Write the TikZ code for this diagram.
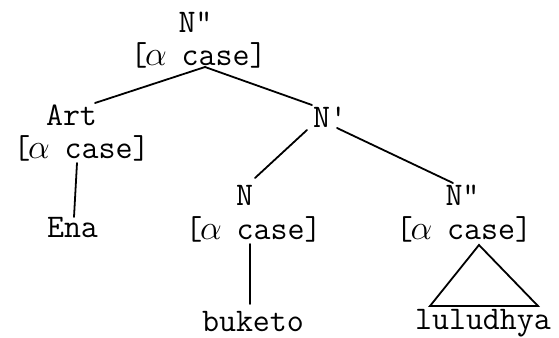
\documentclass[tikz,border=0pt]{standalone}
\usepackage{tikz}

\newcommand{\alf}{\makebox[0.525em]{$\alpha$}}

\begin{document}
\begin{tikzpicture}[
    x=0.5pt, y=-0.5pt,
    lbl/.style={font=\ttfamily\fontsize{16.5}{19}\selectfont, inner sep=0pt, anchor=base},
    edge/.style={draw, line width=0.9pt, color=black, line cap=round}
]
    \useasboundingbox (0,0) rectangle (559,338);

    % Root
    \node [lbl] (root) at (195.5,32) {N"};
    \node [lbl] (rootf) at (198.5,65) {[\alf{} case]};

    % Article branch
    \node [lbl] (art) at (71.5,125) {Art};
    \node [lbl] (artf) at (81.5,158) {[\alf{} case]};
    \node [lbl] (ena) at (72.5,237) {Ena};

    % N' branch
    \node [lbl] (nbar) at (330,127) {N'};
    \node [lbl] (noun) at (244.5,205) {N};
    \node [lbl] (nounf) at (253.5,239) {[\alf{} case]};
    \node [lbl] (buketo) at (253,331) {buketo};
    \node [lbl] (npp) at (462.5,205) {N"};
    \node [lbl] (nppf) at (464,239) {[\alf{} case]};
    \node [lbl] (luludhya) at (483,329) {luludhya};

    % Branches
    \path [edge] ([shift={(6.5,2)}]rootf.base) -- ([shift={(23.5,-22)}]art.base);
    \path [edge] ([shift={(6.5,2)}]rootf.base) -- ([shift={(-18,-22)}]nbar.base);
    \path [edge] ([shift={(-4.5,5)}]artf.base) -- ([shift={(1.5,-20)}]ena.base);
    \path [edge] ([shift={(-23,3)}]nbar.base) -- ([shift={(10.5,-27)}]noun.base);
    \path [edge] ([shift={(7,1)}]nbar.base) -- ([shift={(-9.5,-22)}]npp.base);
    \path [edge] ([shift={(-3.5,5)}]nounf.base) -- ([shift={(-3,-27)}]buketo.base);
    \path [edge, line join=miter] ([shift={(15,6)}]nppf.base) -- ([shift={(-53,-23)}]luludhya.base)
        -- ([shift={(55,-23)}]luludhya.base) -- cycle;
\end{tikzpicture}
\end{document}
